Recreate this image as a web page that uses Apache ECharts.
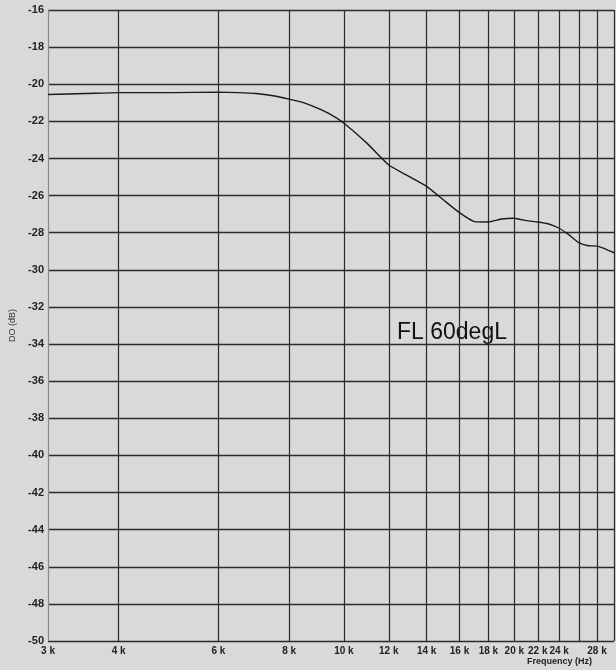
<!DOCTYPE html>
<html>
<head>
<meta charset="utf-8">
<script src="https://cdn.jsdelivr.net/npm/echarts@6/dist/echarts.min.js"></script>
<style>
html,body{margin:0;padding:0;background:#d9d9d9;}
#c{width:616px;height:670px;}
</style>
</head>
<body>
<div id="c"></div>
<script>
// Frequency response curve (Hz, dB)
var freqs = [3000,3500,4000,5000,6000,6500,7000,7500,8000,8500,9000,9500,10000,11000,12000,13000,14000,15000,16000,17000,18000,19000,20000,21000,22000,23000,24000,25000,26000,27000,28000,29000,30000];
var levels = [-20.55,-20.5,-20.45,-20.45,-20.43,-20.45,-20.5,-20.62,-20.8,-21.0,-21.3,-21.65,-22.1,-23.2,-24.35,-24.95,-25.5,-26.24,-26.92,-27.4,-27.42,-27.26,-27.22,-27.35,-27.42,-27.53,-27.76,-28.12,-28.54,-28.7,-28.72,-28.88,-29.08];
// Vertical grid lines and tick labels
var gridFreqs = [3000,4000,6000,8000,10000,12000,14000,16000,18000,20000,22000,24000,26000,28000,30000];
var tickFreqs = [3000,4000,6000,8000,10000,12000,14000,16000,18000,20000,22000,24000,28000];
var tickLabels = ['3 k','4 k','6 k','8 k','10 k','12 k','14 k','16 k','18 k','20 k','22 k','24 k','28 k'];
var yMin = -50, yMax = -16, yStep = 2;
var curveName = 'FL 60degL';

var chart = echarts.init(document.getElementById('c'));
var lineData = freqs.map(function(f,i){return [f, levels[i]];});
var gridLinesData = gridFreqs.map(function(f){
  var idx = tickFreqs.indexOf(f);
  return {
    xAxis: f,
    lineStyle: {color: f === 3000 ? '#8a8a8a' : '#2b2b2b', width: 1.2, type: 'solid'},
    label: idx >= 0 ? {show: true, formatter: tickLabels[idx]} : {show: false}
  };
});
chart.setOption({
  backgroundColor: '#d9d9d9',
  animation: false,
  grid: {left: 48, right: 2, top: 10, bottom: 29},
  xAxis: {
    type: 'log', min: 3000, max: 30000,
    axisLine: {show: false}, axisTick: {show: false}, axisLabel: {show: false}, splitLine: {show: false}, minorSplitLine: {show: false}
  },
  yAxis: {
    type: 'value', min: yMin, max: yMax, interval: yStep,
    name: 'DO (dB)', nameLocation: 'middle', nameGap: 31, nameRotate: 90,
    nameTextStyle: {fontFamily: 'Liberation Sans', fontSize: 9, color: '#333'},
    axisLine: {show: false}, axisTick: {show: false},
    axisLabel: {fontFamily: 'Liberation Sans', fontSize: 11, fontWeight: 'bold', color: '#222', margin: 4},
    splitLine: {lineStyle: {color: '#2b2b2b', width: 1.3}}
  },
  series: [
    {
      type: 'line', name: curveName, data: lineData, showSymbol: false, smooth: 0.15,
      lineStyle: {color: '#1a1a1a', width: 1.4}, z: 5,
      markLine: {
        silent: true, symbol: ['none','none'], animation: false, z: 1,
        label: {position: 'start', distance: 5, fontFamily: 'Liberation Sans', fontSize: 10, fontWeight: 'bold', color: '#222'},
        data: gridLinesData
      }
    }
  ],
  graphic: [
    {type: 'text', left: 397, top: 321, style: {text: curveName, font: '23px "Liberation Sans"', fill: '#111'}},
    {type: 'text', left: 527, top: 657, style: {text: 'Frequency (Hz)', font: 'bold 9px "Liberation Sans"', fill: '#222'}}
  ]
});
</script>
</body>
</html>
